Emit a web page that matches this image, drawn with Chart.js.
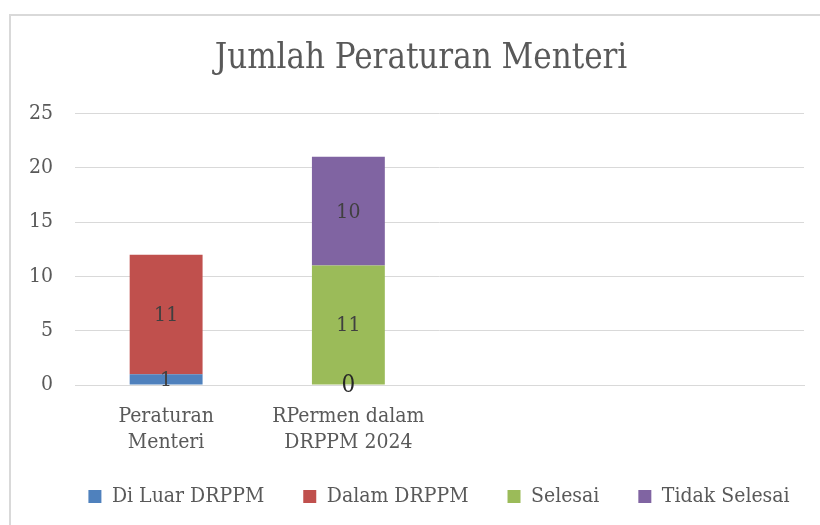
<!DOCTYPE html>
<html>
<head>
<meta charset="utf-8">
<script src="https://cdn.jsdelivr.net/npm/chart.js@4/dist/chart.umd.min.js"></script>
<style>
    body { margin: 0; background: #fff; overflow: hidden; }
    #frame {
        position: absolute; left: 9px; top: 14px;
        width: 830px; height: 530px;
        border: 2px solid #d9d9d9;
    }
    #wrap { position: absolute; left: 0; top: 0; width: 820px; height: 525px; }
</style>
</head>
<body>
<div id="frame"></div>
<div id="wrap"><canvas id="chart"></canvas></div>
<script>
// 数据
const categories = [['Peraturan', 'Menteri'], ['RPermen dalam', 'DRPPM 2024'], '', ''];
const diLuarDRPPM = [1, 0, null, null];
const dalamDRPPM = [11, null, null, null];
const selesai = [null, 11, null, null];
const tidakSelesai = [null, 10, null, null];
const yTicks = [0, 5, 10, 15, 20, 25];

const FONT = "'DejaVu Serif Condensed', 'DejaVu Serif', serif";
const TEXT = '#595959';

// 柱内数值标签
const barLabels = {
    id: 'barLabels',
    afterDatasetsDraw(chart) {
        const ctx = chart.ctx;
        ctx.save();
        ctx.textAlign = 'center';
        ctx.textBaseline = 'middle';
        chart.data.datasets.forEach((ds, i) => {
            const meta = chart.getDatasetMeta(i);
            meta.data.forEach((bar, j) => {
                const v = ds.data[j];
                if (v === null || v === undefined) return;
                ctx.fillStyle = v === 0 ? '#262626' : '#404040';
                ctx.font = (v === 0 ? 24 : 21) + 'px ' + FONT;
                ctx.fillText(String(v), bar.x, (bar.y + bar.base) / 2 + 1);
            });
        });
        ctx.restore();
    }
};

// 标题和图例位置微调（原图表比截图更宽）
const shiftBlocks = {
    id: 'shiftBlocks',
    afterLayout(chart) {
        chart.titleBlock.left += 19;
        chart.titleBlock.right += 19;
        chart.legend.left += 37;
        chart.legend.right += 37;
        chart.legend.top -= 6;
        chart.legend.bottom -= 6;
    }
};

new Chart(document.getElementById('chart'), {
    type: 'bar',
    data: {
        labels: categories,
        datasets: [
            { label: 'Di Luar DRPPM', data: diLuarDRPPM, backgroundColor: '#4F81BD' },
            { label: 'Dalam DRPPM', data: dalamDRPPM, backgroundColor: '#C0504D' },
            { label: 'Selesai', data: selesai, backgroundColor: '#9BBB59' },
            { label: 'Tidak Selesai', data: tidakSelesai, backgroundColor: '#8064A2' }
        ]
    },
    options: {
        responsive: true,
        maintainAspectRatio: false,
        animation: false,
        layout: { padding: { left: 0, right: 16, top: 0, bottom: 2 } },
        datasets: { bar: { categoryPercentage: 1, barPercentage: 0.4 } },
        plugins: {
            title: {
                display: true,
                text: 'Jumlah Peraturan Menteri',
                color: TEXT,
                font: { family: FONT, size: 34.5, weight: 'normal' },
                padding: { top: 38, bottom: 34 }
            },
            legend: {
                position: 'bottom',
                labels: {
                    color: TEXT,
                    font: { family: FONT, size: 21 },
                    boxWidth: 13,
                    boxHeight: 13,
                    padding: 39
                }
            },
            tooltip: { enabled: false }
        },
        scales: {
            x: {
                stacked: true,
                grid: { display: false },
                border: { display: true, color: '#d9d9d9', width: 1 },
                ticks: {
                    color: TEXT,
                    font: { family: FONT, size: 21, lineHeight: 1.25 },
                    padding: 10,
                    maxRotation: 0
                },
                afterFit(scale) { scale.height = 68; }
            },
            y: {
                stacked: true,
                min: 0,
                max: 25,
                afterBuildTicks(scale) { scale.ticks = yTicks.map(v => ({ value: v })); },
                grid: { color: '#d9d9d9', drawTicks: false },
                border: { display: false },
                ticks: {
                    color: TEXT,
                    font: { family: FONT, size: 21 },
                    padding: 22
                },
                afterFit(scale) { scale.width = 75; }
            }
        }
    },
    plugins: [barLabels, shiftBlocks]
});
</script>
</body>
</html>
